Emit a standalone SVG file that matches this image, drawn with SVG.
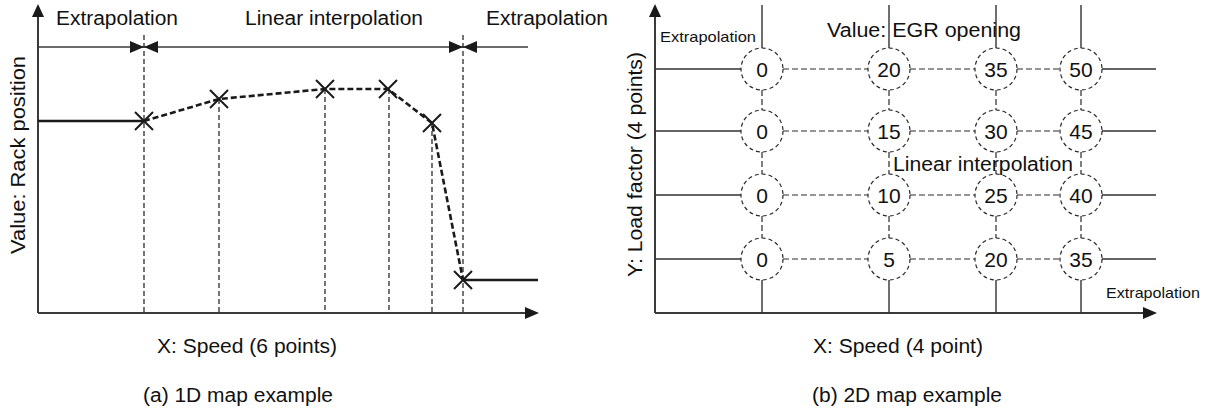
<svg xmlns="http://www.w3.org/2000/svg" width="1205" height="411" viewBox="0 0 1205 411">
<style>
text{font-family:"Liberation Sans",Arial,sans-serif;fill:#111}
.lbl{font-size:19.5px}
.sm{font-size:15px}
.num{font-size:21px;text-anchor:middle}
.axis{stroke:#3a3a3a;stroke-width:2;fill:none}
.thin{stroke:#3a3a3a;stroke-width:1.3;fill:none}
.vd{stroke:#1a1a1a;stroke-width:1.2;stroke-dasharray:5 3;fill:none}
.curve{stroke:#1a1a1a;stroke-width:2.6;stroke-dasharray:6 3;fill:none}
.solid{stroke:#1a1a1a;stroke-width:2.6;fill:none}
.xm{stroke:#1a1a1a;stroke-width:2;fill:none}
.ah{fill:#1a1a1a}
.node{fill:#fff;stroke:#2a2a2a;stroke-width:1.2;stroke-dasharray:4 3}
.grid{stroke:#333;stroke-width:1.4;fill:none}
.gd{stroke:#2a2a2a;stroke-width:1.2;stroke-dasharray:6 3;fill:none}
</style>
<rect width="1205" height="411" fill="#fff"/>

<!-- (a) 1D map -->
<g id="chart-1d">
  <line class="axis" x1="38" y1="15" x2="38" y2="313"/>
  <polygon class="ah" points="38,4 32,17 44,17"/>
  <line class="axis" x1="38" y1="313" x2="527" y2="313"/>
  <polygon class="ah" points="539,313 525,307 525,319"/>
  <line class="thin" x1="38" y1="47" x2="528" y2="47"/>
  <polygon class="ah" points="144,47 130,41 130,53"/>
  <polygon class="ah" points="144,47 158,41 158,53"/>
  <polygon class="ah" points="463,47 449,41 449,53"/>
  <polygon class="ah" points="463,47 477,41 477,53"/>
  <line class="vd" x1="144" y1="35" x2="144" y2="313"/>
  <line class="vd" x1="219" y1="99" x2="219" y2="313"/>
  <line class="vd" x1="325" y1="89" x2="325" y2="313"/>
  <line class="vd" x1="389" y1="89" x2="389" y2="313"/>
  <line class="vd" x1="432" y1="123" x2="432" y2="313"/>
  <line class="vd" x1="463" y1="35" x2="463" y2="313"/>
  <line class="solid" x1="38" y1="121" x2="144" y2="121"/>
  <line class="solid" x1="463" y1="280" x2="538" y2="280"/>
  <polyline class="curve" points="144,121 219,99 325,89 388,89 432,123 463,280"/>
  <path class="xm" d="M135,112 L153,130 M153,112 L135,130"/>
  <path class="xm" d="M210,90 L228,108 M228,90 L210,108"/>
  <path class="xm" d="M316,80 L334,98 M334,80 L316,98"/>
  <path class="xm" d="M379,80 L397,98 M397,80 L379,98"/>
  <path class="xm" d="M423,114 L441,132 M441,114 L423,132"/>
  <path class="xm" d="M454,271 L472,289 M472,271 L454,289"/>
  <text class="lbl" x="56" y="25" textLength="122" lengthAdjust="spacingAndGlyphs">Extrapolation</text>
  <text class="lbl" x="245" y="25" textLength="178" lengthAdjust="spacingAndGlyphs">Linear interpolation</text>
  <text class="lbl" x="486" y="25" textLength="122" lengthAdjust="spacingAndGlyphs">Extrapolation</text>
  <text class="lbl" transform="translate(25,254) rotate(-90)" textLength="198" lengthAdjust="spacingAndGlyphs">Value: Rack position</text>
  <text class="lbl" x="157" y="353" textLength="180" lengthAdjust="spacingAndGlyphs">X: Speed (6 points)</text>
  <text class="lbl" x="143" y="402" textLength="190" lengthAdjust="spacingAndGlyphs">(a) 1D map example</text>
</g>

<!-- (b) 2D map -->
<g id="connectors">
  <line class="axis" x1="655" y1="15" x2="655" y2="313"/>
  <polygon class="ah" points="655,4 649,17 661,17"/>
  <line class="axis" x1="655" y1="313" x2="1144" y2="313"/>
  <polygon class="ah" points="1157,313 1143,307 1143,319"/>
  <path class="grid" d="M762,5 V48 M889,5 V48 M996,5 V48 M1081,5 V48"/>
  <path class="grid" d="M762,280 V313 M889,280 V313 M996,280 V313 M1081,280 V313"/>
  <path class="gd" d="M762,90 V110 M762,152 V174 M762,216 V238 M889,90 V110 M889,152 V174 M889,216 V238 M996,90 V110 M996,152 V174 M996,216 V238 M1081,90 V110 M1081,152 V174 M1081,216 V238"/>
  <path class="grid" d="M655,69 H741 M655,131 H741 M655,195 H741 M655,259 H741"/>
  <path class="grid" d="M1102,69 H1156 M1102,131 H1156 M1102,195 H1156 M1102,259 H1156"/>
  <path class="gd" d="M783,69 H868 M910,69 H975 M1017,69 H1060 M783,131 H868 M910,131 H975 M1017,131 H1060 M783,195 H868 M910,195 H975 M1017,195 H1060 M783,259 H868 M910,259 H975 M1017,259 H1060"/>
</g>

<g id="n-r1c1"><circle class="node" cx="762" cy="69" r="21"/><text class="num" x="762" y="76.5">0</text></g>
<g id="n-r1c2"><circle class="node" cx="889" cy="69" r="21"/><text class="num" x="889" y="76.5">20</text></g>
<g id="n-r1c3"><circle class="node" cx="996" cy="69" r="21"/><text class="num" x="996" y="76.5">35</text></g>
<g id="n-r1c4"><circle class="node" cx="1081" cy="69" r="21"/><text class="num" x="1081" y="76.5">50</text></g>
<g id="n-r2c1"><circle class="node" cx="762" cy="131" r="21"/><text class="num" x="762" y="138.5">0</text></g>
<g id="n-r2c2"><circle class="node" cx="889" cy="131" r="21"/><text class="num" x="889" y="138.5">15</text></g>
<g id="n-r2c3"><circle class="node" cx="996" cy="131" r="21"/><text class="num" x="996" y="138.5">30</text></g>
<g id="n-r2c4"><circle class="node" cx="1081" cy="131" r="21"/><text class="num" x="1081" y="138.5">45</text></g>
<g id="n-r3c1"><circle class="node" cx="762" cy="195" r="21"/><text class="num" x="762" y="202.5">0</text></g>
<g id="n-r3c2"><circle class="node" cx="889" cy="195" r="21"/><text class="num" x="889" y="202.5">10</text></g>
<g id="n-r3c3"><circle class="node" cx="996" cy="195" r="21"/><text class="num" x="996" y="202.5">25</text></g>
<g id="n-r3c4"><circle class="node" cx="1081" cy="195" r="21"/><text class="num" x="1081" y="202.5">40</text></g>
<g id="n-r4c1"><circle class="node" cx="762" cy="259" r="21"/><text class="num" x="762" y="266.5">0</text></g>
<g id="n-r4c2"><circle class="node" cx="889" cy="259" r="21"/><text class="num" x="889" y="266.5">5</text></g>
<g id="n-r4c3"><circle class="node" cx="996" cy="259" r="21"/><text class="num" x="996" y="266.5">20</text></g>
<g id="n-r4c4"><circle class="node" cx="1081" cy="259" r="21"/><text class="num" x="1081" y="266.5">35</text></g>

<g id="labels-2d">
  <text class="sm" x="660" y="42" textLength="96" lengthAdjust="spacingAndGlyphs">Extrapolation</text>
  <text class="lbl" x="827" y="37" textLength="194" lengthAdjust="spacingAndGlyphs">Value: EGR opening</text>
  <text class="lbl" x="893" y="171" textLength="180" lengthAdjust="spacingAndGlyphs">Linear interpolation</text>
  <text class="sm" x="1106" y="298" textLength="94" lengthAdjust="spacingAndGlyphs">Extrapolation</text>
  <text class="lbl" transform="translate(642,277) rotate(-90)" textLength="225" lengthAdjust="spacingAndGlyphs">Y: Load factor (4 points)</text>
  <text class="lbl" x="813" y="353" textLength="170" lengthAdjust="spacingAndGlyphs">X: Speed (4 point)</text>
  <text class="lbl" x="812" y="402" textLength="190" lengthAdjust="spacingAndGlyphs">(b) 2D map example</text>
</g>
</svg>
